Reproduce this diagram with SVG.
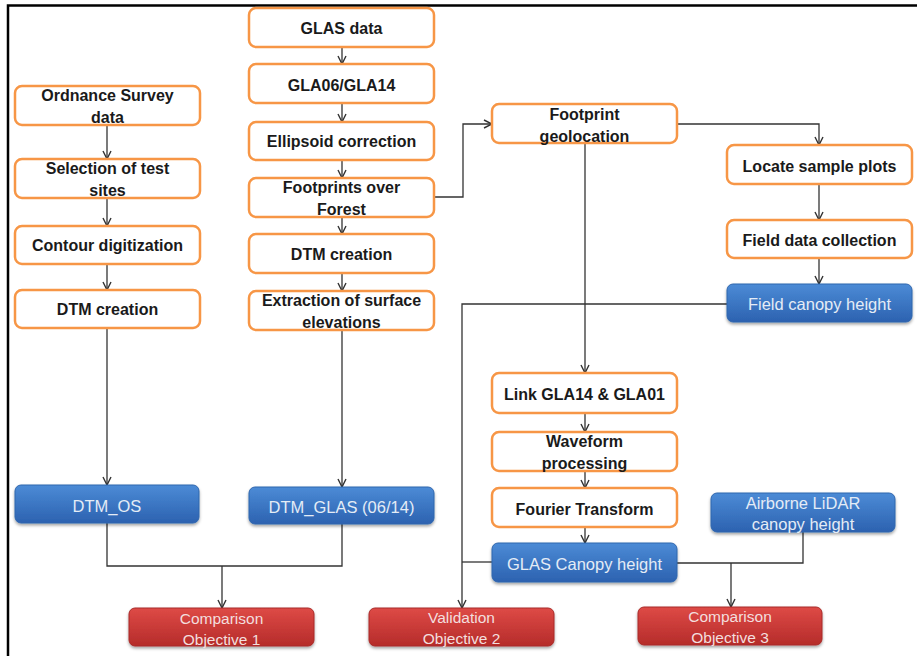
<svg xmlns="http://www.w3.org/2000/svg" width="917" height="656" viewBox="0 0 917 656">
<defs>
  <linearGradient id="gBlue" x1="0" y1="0" x2="0" y2="1">
    <stop offset="0" stop-color="#4c8bd6"/>
    <stop offset="1" stop-color="#2c62b0"/>
  </linearGradient>
  <linearGradient id="gRed" x1="0" y1="0" x2="0" y2="1">
    <stop offset="0" stop-color="#de4a46"/>
    <stop offset="1" stop-color="#b52c2a"/>
  </linearGradient>
  <filter id="shadow" x="-10%" y="-20%" width="120%" height="150%">
    <feDropShadow dx="0" dy="2" stdDeviation="1.5" flood-color="#000" flood-opacity="0.35"/>
  </filter>
  <marker id="arrow" markerUnits="userSpaceOnUse" viewBox="0 0 10 10" refX="9" refY="5" markerWidth="10" markerHeight="10" orient="auto">
    <path d="M1,1 L9,5 L1,9" fill="none" stroke="#333" stroke-width="1.4"/>
  </marker>
  <style>
    .o rect { fill: #ffffff; stroke: #f79646; stroke-width: 2.5; }
    .o text { font-family: "Liberation Sans", Arial, sans-serif; font-weight: bold; font-size: 16px; fill: #1a1a1a; text-anchor: middle; }
    .b rect { fill: url(#gBlue); stroke: #2f66ad; stroke-width: 1; filter: url(#shadow); }
    .b text { font-family: "Liberation Sans", Arial, sans-serif; font-size: 16.5px; fill: #e4ecf6; text-anchor: middle; }
    .r rect { fill: url(#gRed); stroke: #a82a28; stroke-width: 1; filter: url(#shadow); }
    .r text { font-family: "Liberation Sans", Arial, sans-serif; font-size: 15.5px; fill: #f3dede; text-anchor: middle; }
    .c path { fill: none; stroke: #333; stroke-width: 1.3; }
    .c .a { marker-end: url(#arrow); }
    .frame { stroke: #000; stroke-width: 2.5; fill: none; }
  </style>
</defs>
<rect width="917" height="656" fill="#ffffff"/>
<path class="frame" d="M8,656 L8,5.5 L917,5.5"/>

<g class="c" id="connectors">
  <path class="a" d="M107,125 L107,159"/>
  <path class="a" d="M107,198 L107,226"/>
  <path class="a" d="M107,264 L107,290"/>
  <path class="a" d="M107,328 L107,485"/>
  <path class="a" d="M342,47 L342,64"/>
  <path class="a" d="M342,103 L342,122"/>
  <path class="a" d="M342,160 L342,178"/>
  <path class="a" d="M342,217 L342,234"/>
  <path class="a" d="M342,273 L342,291"/>
  <path class="a" d="M342,330 L342,487"/>
  <path class="a" d="M434,197 L463,197 L463,124 L492,124"/>
  <path class="a" d="M677,124 L819,124 L819,145"/>
  <path class="a" d="M819,184 L819,220"/>
  <path class="a" d="M819,258 L819,284"/>
  <path class="a" d="M585,143 L585,373"/>
  <path class="a" d="M585,413 L585,432"/>
  <path class="a" d="M585,471 L585,488"/>
  <path class="a" d="M585,527 L585,543"/>
  <path class="a" d="M727,304 L462,304 L462,608"/>
  <path d="M492,562 L462,562"/>
  <path d="M677,563 L803,563 L803,532"/>
  <path class="a" d="M731,563 L731,607"/>
  <path d="M107,523 L107,566 L342,566 L342,524"/>
  <path class="a" d="M222,566 L222,608"/>
</g>

<g class="o" id="n-os-data"><rect x="15" y="86" width="185" height="39" rx="7"/><text x="107.5" y="101">Ordnance Survey</text><text x="107.5" y="123">data</text></g>
<g class="o" id="n-selection"><rect x="15" y="159" width="185" height="39" rx="7"/><text x="107.5" y="174">Selection of test</text><text x="107.5" y="196">sites</text></g>
<g class="o" id="n-contour"><rect x="15" y="226" width="185" height="38" rx="7"/><text x="107.5" y="251">Contour digitization</text></g>
<g class="o" id="n-dtm-os-creation"><rect x="15" y="290" width="185" height="38" rx="7"/><text x="107.5" y="315">DTM creation</text></g>

<g class="o" id="n-glas-data"><rect x="249" y="8" width="185" height="39" rx="7"/><text x="341.5" y="34">GLAS data</text></g>
<g class="o" id="n-gla06"><rect x="249" y="64" width="185" height="39" rx="7"/><text x="341.5" y="91">GLA06/GLA14</text></g>
<g class="o" id="n-ellipsoid"><rect x="249" y="122" width="185" height="38" rx="7"/><text x="341.5" y="147">Ellipsoid correction</text></g>
<g class="o" id="n-footprints"><rect x="249" y="178" width="185" height="39" rx="7"/><text x="341.5" y="193">Footprints over</text><text x="341.5" y="215">Forest</text></g>
<g class="o" id="n-dtm-glas-creation"><rect x="249" y="234" width="185" height="39" rx="7"/><text x="341.5" y="260">DTM creation</text></g>
<g class="o" id="n-extraction"><rect x="249" y="291" width="185" height="39" rx="7"/><text x="341.5" y="306">Extraction of surface</text><text x="341.5" y="328">elevations</text></g>

<g class="o" id="n-geolocation"><rect x="492" y="104" width="185" height="39" rx="7"/><text x="584.5" y="120">Footprint</text><text x="584.5" y="142">geolocation</text></g>
<g class="o" id="n-locate"><rect x="727" y="145" width="185" height="39" rx="7"/><text x="819.5" y="172">Locate sample plots</text></g>
<g class="o" id="n-field-data"><rect x="727" y="220" width="185" height="38" rx="7"/><text x="819.5" y="246">Field data collection</text></g>
<g class="o" id="n-link"><rect x="492" y="373" width="185" height="40" rx="7"/><text x="584.5" y="400">Link GLA14 &amp; GLA01</text></g>
<g class="o" id="n-waveform"><rect x="492" y="432" width="185" height="39" rx="7"/><text x="584.5" y="447">Waveform</text><text x="584.5" y="469">processing</text></g>
<g class="o" id="n-fourier"><rect x="492" y="488" width="185" height="39" rx="7"/><text x="584.5" y="515">Fourier Transform</text></g>

<g class="b" id="n-field-canopy"><rect x="727" y="284" width="185" height="38" rx="6"/><text x="819.5" y="310">Field canopy height</text></g>
<g class="b" id="n-glas-canopy"><rect x="492" y="543" width="185" height="39" rx="6"/><text x="584.5" y="570">GLAS Canopy height</text></g>
<g class="b" id="n-airborne"><rect x="711" y="493" width="184" height="39" rx="6"/><text x="803" y="509">Airborne LiDAR</text><text x="803" y="530">canopy height</text></g>
<g class="b" id="n-dtm-os"><rect x="15" y="485" width="184" height="38" rx="6"/><text x="107" y="512">DTM_OS</text></g>
<g class="b" id="n-dtm-glas"><rect x="249" y="487" width="185" height="37" rx="6"/><text x="341.5" y="513">DTM_GLAS (06/14)</text></g>

<g class="r" id="n-obj1"><rect x="129" y="608" width="185" height="38" rx="6"/><text x="221.5" y="624">Comparison</text><text x="221.5" y="645">Objective 1</text></g>
<g class="r" id="n-obj2"><rect x="369" y="608" width="185" height="38" rx="6"/><text x="461.5" y="623">Validation</text><text x="461.5" y="644">Objective 2</text></g>
<g class="r" id="n-obj3"><rect x="638" y="607" width="184" height="38" rx="6"/><text x="730" y="622">Comparison</text><text x="730" y="643">Objective 3</text></g>
</svg>
